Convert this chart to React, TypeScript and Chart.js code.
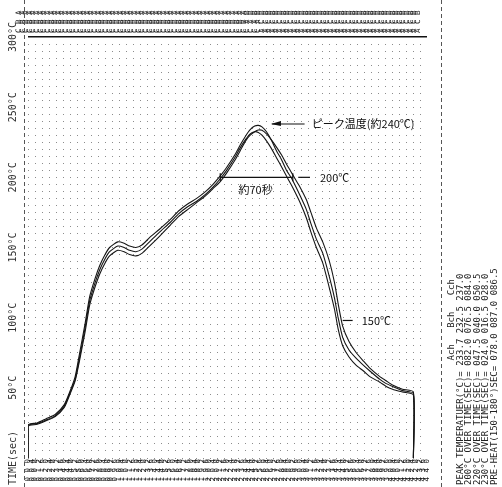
import React, { useEffect, useRef } from 'react';
import { Chart, registerables } from 'chart.js';

Chart.register(...registerables);

// time (sec)
const times = [0, 10, 20, 30, 40, 46, 52, 57, 63, 68, 74, 79, 85, 90, 99, 106, 112, 119, 126, 134, 145, 157, 166, 176, 186, 196, 204, 212, 219, 229, 234, 240, 245, 250, 254, 258, 263, 268, 274, 280, 285, 290, 294, 300, 307, 312, 318, 325, 332, 338, 342, 347, 354, 362, 370, 377, 388, 395, 402, 413, 425];

// temperatures (°C) per channel
const chA = [22.5, 24, 26.5, 29.5, 36, 45, 55, 70, 90, 109, 122, 131, 139, 144, 148, 147, 145, 144, 146, 151, 158, 166, 172, 177, 182, 187, 192, 197, 203, 213, 219, 226, 230, 232.5, 233.7, 233.5, 231, 227, 221.5, 215.5, 209.5, 204, 199.5, 193, 184, 175, 164, 154, 141, 125, 110, 94, 83, 75, 69, 64, 58, 55, 52, 49, 47];
const chB = [23, 24.5, 27, 30, 37, 46, 56, 72, 93, 112, 125, 134, 142, 147, 151, 150, 148, 147, 149, 154, 161, 168, 174, 179, 183, 188, 193, 199, 205, 215, 221, 227, 231, 232.5, 232, 230, 226, 221, 214, 207, 201, 195, 190, 182, 171, 161, 150, 139, 122, 106, 92, 80, 72, 66, 62, 58, 54, 51, 49, 47, 45];
const chC = [23.5, 25, 28, 31, 38, 47, 58, 75, 96, 115, 128, 137, 145, 150, 154, 153, 151, 150, 152, 157, 163, 170, 176, 181, 185, 190, 195, 201, 207, 217, 223, 229.5, 234, 236.5, 237, 236, 232.5, 227, 219, 212, 205, 200, 195, 187, 177, 167, 156, 146, 130, 114, 100, 86, 77, 71, 66, 62, 56, 53, 51, 48, 46];

const channelNames = ['A', 'B', 'C'];
const channelSeries = [chA, chB, chC];

const yLabels: Record<number, string> = {
  0: 'TIME(sec)',
  50: '50°C',
  100: '100°C',
  150: '150°C',
  200: '200°C',
  250: '250°C',
  300: '300°C',
};

const sideLines = [
  '                       Ach   Bch   Cch',
  'PEAK TEMPERATUER(°C)= 233.7 232.5 237.0',
  '200°C OVER TIME(SEC)= 082.0 076.5 084.0',
  '220°C OVER TIME(SEC)= 047.5 040.0 050.5',
  '230°C OVER TIME(SEC)= 024.0 016.5 028.0',
  'PRE-HEAT(150-180°)SEC= 078.0 087.0 086.5',
];

const PEAK_LABEL = 'ピーク温度(約240℃)';
const DWELL_LABEL = '約70秒';
const LEVEL_200 = '200℃';
const LEVEL_150 = '150℃';

function valueAt(arr: number[], t: number): number {
  if (t <= times[0]) return arr[0];
  for (let i = 1; i < times.length; i++) {
    if (t <= times[i]) {
      const f = (t - times[i - 1]) / (times[i] - times[i - 1]);
      return arr[i - 1] + f * (arr[i] - arr[i - 1]);
    }
  }
  return arr[arr.length - 1];
}

function orderLabel(t: number): string {
  const idx = [0, 1, 2].sort((a, b) => valueAt(channelSeries[b], t) - valueAt(channelSeries[a], t));
  return idx.map((i) => channelNames[i]).join(' ');
}

function spaced(s: string): string {
  return s.split('').join(' ');
}

const annotate = {
  id: 'annotate',
  afterDraw(chart: any) {
    const { ctx, chartArea, scales } = chart;
    const xs = scales.x;
    const ys = scales.y;
    const X = (t: number) => xs.getPixelForValue(t);
    const Y = (v: number) => ys.getPixelForValue(v);
    const line = (x1: number, y1: number, x2: number, y2: number) => {
      ctx.beginPath();
      ctx.moveTo(x1, y1);
      ctx.lineTo(x2, y2);
      ctx.stroke();
    };
    ctx.save();
    // page dashed borders
    ctx.strokeStyle = '#555';
    ctx.lineWidth = 1;
    ctx.setLineDash([4, 3]);
    line(Math.round(chartArea.left - 4) + 0.5, 0, Math.round(chartArea.left - 4) + 0.5, chart.height);
    line(Math.round(chartArea.right + 14) + 0.5, 0, Math.round(chartArea.right + 14) + 0.5, chart.height);
    ctx.setLineDash([]);

    ctx.strokeStyle = '#111';
    ctx.fillStyle = '#111';
    ctx.lineWidth = 1.2;

    // 200°C dwell bracket
    const yb = Y(200);
    line(X(212), yb, X(292), yb);
    line(X(212), yb - 4, X(212), yb + 4);
    line(X(292), yb - 4, X(292), yb + 4);
    line(X(298), yb, X(311), yb);
    ctx.font = '11px "Noto Sans CJK JP"';
    ctx.textBaseline = 'middle';
    ctx.textAlign = 'left';
    ctx.fillText(LEVEL_200, X(322), yb);
    ctx.textAlign = 'center';
    ctx.fillText(DWELL_LABEL, X(251), Y(191));

    // peak arrow
    const yp = Y(238);
    line(X(269), yp, X(305), yp);
    ctx.beginPath();
    ctx.moveTo(X(269) - 1, yp);
    ctx.lineTo(X(269) + 9, yp - 3);
    ctx.lineTo(X(269) + 9, yp + 2);
    ctx.closePath();
    ctx.fill();
    ctx.textAlign = 'left';
    ctx.fillText(PEAK_LABEL, X(313), yp);

    // 150°C note
    const y15 = Y(98);
    line(X(347), y15, X(358), y15);
    ctx.fillText(LEVEL_150, X(368), y15);

    // side summary text (rotated)
    ctx.font = '9px "DejaVu Sans Mono"';
    ctx.fillStyle = '#222';
    ctx.textAlign = 'left';
    ctx.textBaseline = 'middle';
    sideLines.forEach((s, i) => {
      ctx.save();
      ctx.translate(chartArea.right + 25 + i * 8.5, chart.height - 2);
      ctx.rotate(-Math.PI / 2);
      ctx.fillText(s, 0, 0);
      ctx.restore();
    });
    ctx.restore();
  },
};

export default function App() {
  const ref = useRef<HTMLCanvasElement>(null);
  useEffect(() => {
    if (!ref.current) return;
    const mk = (arr: number[]) => [
      { x: times[0], y: 0 },
      ...times.map((t, i) => ({ x: t, y: arr[i] })),
      { x: times[times.length - 1], y: 0 },
    ];
    const chart = new Chart(ref.current, {
      type: 'line',
      data: {
        datasets: channelSeries.map((arr, i) => ({
          label: channelNames[i] + 'ch',
          data: mk(arr),
          borderColor: '#151515',
          borderWidth: 1.1,
          pointRadius: 0,
          tension: 0.2,
          fill: false,
        })),
      },
      options: {
        animation: false,
        responsive: false,
        devicePixelRatio: 1,
        layout: { padding: { left: 0, right: 75, top: 0, bottom: 0 } },
        plugins: { legend: { display: false }, tooltip: { enabled: false } },
        scales: {
          x: {
            type: 'linear',
            position: 'bottom',
            min: 0,
            max: 440,
            grid: { display: false, drawTicks: false },
            border: { display: false },
            ticks: {
              stepSize: 4,
              autoSkip: false,
              minRotation: 90,
              maxRotation: 90,
              padding: 1,
              color: '#1a1a1a',
              font: { family: 'DejaVu Sans Mono', size: 7.5 },
              callback: (v: any) => spaced(String(v).padStart(3, '0')),
            },
            afterFit: (s: any) => {
              s.height = 29;
            },
          },
          x2: {
            type: 'linear',
            position: 'top',
            min: 0,
            max: 440,
            grid: { display: false, drawTicks: false },
            border: { display: false },
            ticks: {
              stepSize: 4,
              autoSkip: false,
              minRotation: 90,
              maxRotation: 90,
              padding: 4,
              color: '#1a1a1a',
              font: { family: 'DejaVu Sans Mono', size: 7.5 },
              callback: (v: any) => orderLabel(Number(v)),
            },
            afterFit: (s: any) => {
              s.height = 37;
            },
          },
          y: {
            type: 'linear',
            min: 0,
            max: 300,
            grid: {
              drawTicks: false,
              color: (c: any) => (c.tick && c.tick.value === 300 ? '#111' : '#8c8c8c'),
              lineWidth: (c: any) => (c.tick && c.tick.value === 300 ? 1.6 : 1),
            },
            border: {
              display: false,
              dash: (c: any) => (c.tick && c.tick.value === 300 ? [] : [1, 6]),
            },
            ticks: {
              stepSize: 5,
              autoSkip: false,
              minRotation: 90,
              maxRotation: 90,
              crossAlign: 'center',
              padding: -12,
              color: '#333',
              font: { family: 'DejaVu Sans Mono', size: 10 },
              callback: (v: any) => (yLabels[Number(v)] !== undefined ? yLabels[Number(v)] : ''),
            },
            afterFit: (s: any) => {
              s.width = 28;
            },
          },
        },
      },
      plugins: [annotate],
    } as any);
    return () => chart.destroy();
  }, []);
  return (
    <div style={{ position: 'fixed', left: 0, top: 0, width: 502, height: 487, background: '#fff' }}>
      <canvas ref={ref} width={502} height={487} style={{ width: 502, height: 487, display: 'block' }} />
    </div>
  );
}
